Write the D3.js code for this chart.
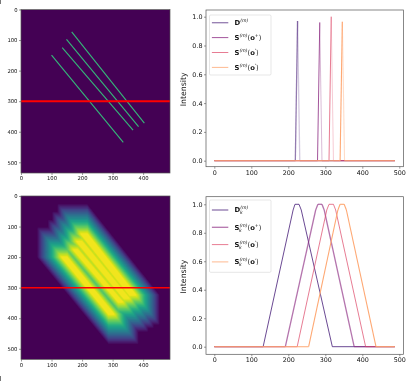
<!DOCTYPE html>
<html>
<head>
<meta charset="utf-8">
<script src="https://d3js.org/d3.v7.min.js"></script>
<style>
  html, body { margin: 0; padding: 0; background: #fff; }
  svg { display: block; filter: blur(0.3px); }
  text { font-family: "DejaVu Sans"; fill: #111; }
</style>
</head>
<body>
<svg id="chart" width="415" height="381"></svg>
<script>
// diagonal segments in the image panels: [x0, y0, x1, y1] in image pixels
const segments = [
  [166, 73, 404, 372],
  [149, 98, 385, 383],
  [135, 125, 367, 395],
  [100, 149, 335, 435]
];
const imageTicksX = [0, 100, 200, 300, 400];
const imageTicksY = [0, 100, 200, 300, 400, 500];
const imageWidth = 488, imageHeight = 535;
const scanRow = 300;
const boxHalf = 50; // half width of the box filter on the lower image
const gridStep = 3;

// top right profiles
const thinX = [
  [0, 219, 225, 231, 488],
  [0, 279, 285, 291, 488],
  [0, 310, 316, 322, 488],
  [0, 340, 346, 352, 488]
];
const thinY = [
  [0, 0, 0.97, 0, 0],
  [0, 0, 0.96, 0, 0],
  [0, 0, 1.0, 0, 0],
  [0, 0, 0.965, 0, 0]
];

// bottom right profiles
const blurX = [
  [0, 132, 213, 218, 229, 235, 319, 488],
  [0, 192, 274, 280, 291, 297, 378, 488],
  [0, 224, 304, 310, 322, 328, 409, 488],
  [0, 255, 334, 340, 351, 357, 437, 488]
];
const blurY = [
  [0, 0, 0.96, 1, 1, 0.96, 0, 0],
  [0, 0, 0.96, 1, 1, 0.96, 0, 0],
  [0, 0, 0.96, 1, 1, 0.96, 0, 0],
  [0, 0, 0.96, 1, 1, 0.96, 0, 0]
];

const profileTicksX = [0, 100, 200, 300, 400, 500];
const profileTicksY = [0, 0.2, 0.4, 0.6, 0.8, 1.0];
const lineColors = ['#3b0f70', '#8c2981', '#de4968', '#fea873'];
const legendNames = ['D', 'S', 'S', 'S'];
const legendArgs = [null, '+', "'", "'"];

const svg = d3.select('#chart');

function styleAxis(sel, size) {
  sel.select('.domain').remove();
  sel.selectAll('line').attr('stroke', '#333').attr('stroke-width', 0.5);
  sel.selectAll('text').style('font-size', size + 'px').attr('fill', '#111');
}

function frame(g, x, y, ys, xTicks, yTicks, fmt, size) {
  const b = y + ys;
  g.append('g').attr('transform', 'translate(0,' + b + ')')
    .call(d3.axisBottom(xTicks.s).tickValues(xTicks.t).tickSize(2).tickPadding(1.5).tickFormat(d3.format('d')))
    .call(styleAxis, size);
  g.append('g').attr('transform', 'translate(' + x + ',0)')
    .call(d3.axisLeft(yTicks.s).tickValues(yTicks.t).tickSize(2).tickPadding(1.5).tickFormat(fmt))
    .call(styleAxis, size);
}

// how much of a segment falls inside the box around (px, py), 0 to 1
function boxOverlap(s, px, py) {
  const m = (s[3] - s[1]) / (s[2] - s[0]);
  const lo = Math.max(py - boxHalf, s[1], s[1] + (px - boxHalf - s[0]) * m);
  const hi = Math.min(py + boxHalf, s[3], s[1] + (px + boxHalf - s[0]) * m);
  return Math.min(1, Math.max(0, hi - lo) / (2 * boxHalf));
}

function imagePanel(top, blurred) {
  const x0 = 21, w = 149, h = 163.5;
  const x = d3.scaleLinear().domain([0, imageWidth]).range([x0, x0 + w]);
  const y = d3.scaleLinear().domain([0, imageHeight]).range([top, top + h]);
  const g = svg.append('g');
  const clipId = 'clip' + Math.round(top);
  g.append('clipPath').attr('id', clipId).append('rect')
    .attr('x', x0).attr('y', top).attr('width', w).attr('height', h);
  const body = g.append('g').attr('clip-path', 'url(#' + clipId + ')');
  body.append('rect').attr('x', x0).attr('y', top).attr('width', w).attr('height', h)
    .attr('fill', d3.interpolateViridis(0));

  if (blurred) {
    const cols = Math.ceil(imageWidth / gridStep), rows = Math.ceil(imageHeight / gridStep);
    const values = [];
    for (let j = 0; j < rows; j++) {
      for (let i = 0; i < cols; i++) {
        values.push(d3.max(segments, function(s) { return boxOverlap(s, i * gridStep, j * gridStep); }));
      }
    }
    const bands = d3.contours().size([cols, rows]).thresholds(d3.range(0.02, 1, 0.02))(values);
    const path = d3.geoPath(d3.geoTransform({
      point: function(a, b) { this.stream.point(x(a * gridStep), y(b * gridStep)); }
    }));
    body.append('g').selectAll('path').data(bands).enter().append('path')
      .attr('d', path)
      .attr('fill', function(d) { return d3.interpolateViridis(d.value); });
  } else {
    body.append('g').selectAll('line').data(segments).enter().append('line')
      .attr('x1', function(s) { return x(s[0]); })
      .attr('y1', function(s) { return y(s[1]); })
      .attr('x2', function(s) { return x(s[2]); })
      .attr('y2', function(s) { return y(s[3]); })
      .attr('stroke', '#35b779').attr('stroke-width', 1.1);
  }

  body.append('line')
    .attr('x1', x(0)).attr('x2', x(imageWidth))
    .attr('y1', y(scanRow)).attr('y2', y(scanRow))
    .attr('stroke', '#f00').attr('stroke-width', blurred ? 1.5 : 1.9);

  frame(g, x0, top, h, { s: x, t: imageTicksX }, { s: y, t: imageTicksY }, d3.format('d'), 5.3);
  g.append('rect').attr('x', x0).attr('y', top).attr('width', w).attr('height', h)
    .attr('fill', 'none').attr('stroke', '#555').attr('stroke-width', 0.7);
}

function profilePanel(opt) {
  const x0 = 206, w = 197.5;
  const x = d3.scaleLinear().domain([0, 500]).range([214.3, 399.3]);
  const y = d3.scaleLinear().domain([0, 1]).range([opt.y0, opt.y1]);
  const g = svg.append('g');
  const line = d3.line().x(function(d) { return x(d[0]); }).y(function(d) { return y(d[1]); });

  opt.xs.forEach(function(xv, i) {
    const pts = d3.zip(xv, opt.ys[i]);
    // last series is on top and has to cover the others along the zero line
    const width = i === opt.thick ? 1.3 : (i === 3 ? 1.1 : 0.8);
    d3.pairs(pts).forEach(function(p, k) {
      // the falling edge of the narrow peaks reads much paler than the rising one
      const pale = opt.paleFall && k === 2;
      g.append('path')
        .attr('d', line(p))
        .attr('fill', 'none')
        .attr('stroke', lineColors[i])
        .attr('stroke-linecap', 'butt')
        .attr('stroke-opacity', pale ? opt.alphas[i] * 0.4 : opt.alphas[i])
        .attr('stroke-width', width);
    });
  });

  frame(g, x0, opt.top, opt.h, { s: x, t: profileTicksX }, { s: y, t: profileTicksY }, d3.format('.1f'), 6.4);
  g.append('rect').attr('x', x0).attr('y', opt.top).attr('width', w).attr('height', opt.h)
    .attr('fill', 'none').attr('stroke', '#555').attr('stroke-width', 0.7);

  g.append('text')
    .attr('transform', 'translate(186,' + (opt.top + opt.h / 2 + 1) + ') rotate(-90)')
    .attr('text-anchor', 'middle')
    .style('font-size', '7.8px')
    .text('Intensity');

  // legend
  const lx = 209.5, lw = 61.5;
  g.append('rect').attr('x', lx).attr('y', opt.legendTop).attr('width', lw).attr('height', opt.legendH).attr('rx', 1.2)
    .attr('fill', '#fff').attr('fill-opacity', 0.85).attr('stroke', '#ccc').attr('stroke-width', 0.5);
  legendNames.forEach(function(name, i) {
    const cy = opt.legendTop + opt.firstRow + i * opt.rowH;
    g.append('line').attr('x1', lx + 2.4).attr('x2', lx + 18.8).attr('y1', cy).attr('y2', cy)
      .attr('stroke', lineColors[i]).attr('stroke-opacity', opt.alphas[i])
      .attr('stroke-width', i === opt.thick ? 1.3 : 0.8);
    const t = g.append('text').attr('x', lx + 25).attr('y', cy + 2.4).style('font-size', '6.8px');
    t.append('tspan').style('font-weight', 'bold').text(name);
    t.append('tspan').attr('dy', -3).style('font-size', '4.6px').style('font-style', 'italic').text('(m)');
    if (opt.sub) {
      // subscript k sits under the superscript
      g.append('text').attr('x', lx + 25 + (name === 'D' ? 5.4 : 4.6)).attr('y', cy + 4.4)
        .style('font-size', '4.6px').style('font-style', 'italic').text('k');
    }
    if (legendArgs[i]) {
      t.append('tspan').attr('dy', 3).text('(');
      t.append('tspan').style('font-weight', 'bold').text('o');
      t.append('tspan').attr('dy', -2.6).style('font-size', '4.6px').text(legendArgs[i]);
      t.append('tspan').attr('dy', 2.6).text(')');
    }
  });
}

imagePanel(9.5, false);
imagePanel(196, true);
profilePanel({
  top: 10, h: 156.7, y1: 16.7, y0: 160.7, xs: thinX, ys: thinY, thick: 0,
  alphas: [0.55, 1, 0.9, 1], paleFall: true,
  sub: false, legendTop: 15, legendH: 60, firstRow: 7.7, rowH: 14.9
});
profilePanel({
  top: 196.7, h: 157.6, y1: 204.3, y0: 346.7, xs: blurX, ys: blurY, thick: 1,
  alphas: [0.95, 0.65, 0.9, 1], paleFall: false,
  sub: true, legendTop: 200, legendH: 72.3, firstRow: 10, rowH: 17.3
});

// the crop of the source figure leaves two slivers on the left edge
svg.selectAll('.sliver').data([[0, 4], [376, 381]]).enter().append('line')
  .attr('x1', 0.5).attr('x2', 0.5)
  .attr('y1', function(d) { return d[0]; })
  .attr('y2', function(d) { return d[1]; })
  .attr('stroke', '#555').attr('stroke-width', 0.8);
</script>
</body>
</html>
